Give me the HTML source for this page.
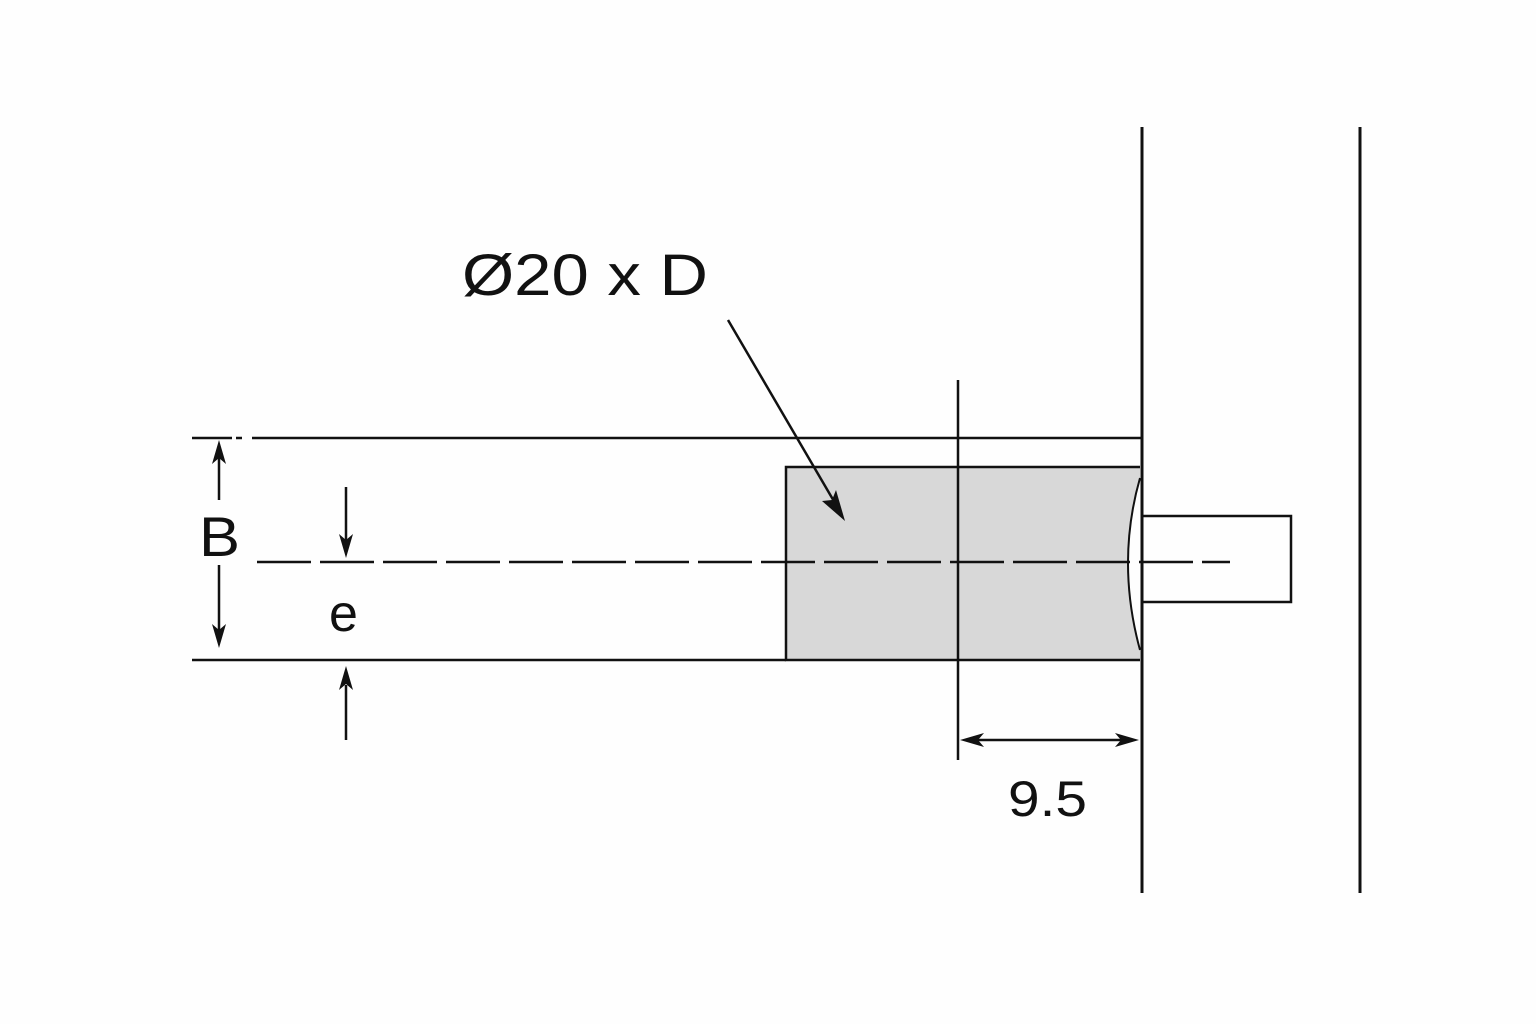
<!DOCTYPE html>
<html><head><meta charset="utf-8"><style>
html,body{margin:0;padding:0;background:#fff;}
svg{display:block;}
text{font-family:"Liberation Sans",sans-serif;fill:#111;}
</style></head><body>
<svg width="1536" height="1024" viewBox="0 0 1536 1024" xmlns="http://www.w3.org/2000/svg">
<rect width="1536" height="1024" fill="#fefefe"/>
<g stroke="#111" fill="none">
<line x1="1142" y1="127" x2="1142" y2="893" stroke-width="3"/>
<line x1="1360" y1="127" x2="1360" y2="893" stroke-width="3"/>
<path d="M786,467 L1140,467 L1140,478 Q1116,562 1140,650 L1140,660 L786,660 Z" fill="#d8d8d8" stroke="none"/>
<path d="M1140,467 L786,467 L786,660 L1140,660" stroke-width="2.5"/>
<path d="M1140,478 Q1116,562 1140,650" stroke-width="2"/>
<line x1="192" y1="438" x2="232" y2="438" stroke-width="2.5"/>
<line x1="236" y1="438" x2="242" y2="438" stroke-width="2.5"/>
<line x1="252" y1="438" x2="1142" y2="438" stroke-width="2.5"/>
<line x1="192" y1="660" x2="786" y2="660" stroke-width="2.5"/>
<rect x="1142" y="516" width="149" height="86" stroke-width="2.5"/>
<line x1="257" y1="562" x2="1230" y2="562" stroke-width="2.5" stroke-dasharray="54 9"/>
<line x1="958" y1="380" x2="958" y2="760" stroke-width="2.5"/>
<line x1="219" y1="500" x2="219" y2="455" stroke-width="2.5"/>
<line x1="219" y1="565" x2="219" y2="630" stroke-width="2.5"/>
<line x1="346" y1="487" x2="346" y2="540" stroke-width="2.5"/>
<line x1="346" y1="740" x2="346" y2="685" stroke-width="2.5"/>
<line x1="975" y1="740" x2="1122" y2="740" stroke-width="2.5"/>
<line x1="728" y1="320" x2="835" y2="503" stroke-width="2.5"/>
</g>
<g fill="#111">
<path d="M219,440 L226,464 L219,458 L212,464 Z"/>
<path d="M219,648 L226,624 L219,630 L212,624 Z"/>
<path d="M346,558 L353,534 L346,540 L339,534 Z"/>
<path d="M346,666 L353,690 L346,684 L339,690 Z"/>
<path d="M960,740 L984,733 L978,740 L984,747 Z"/>
<path d="M1139,740 L1115,733 L1121,740 L1115,747 Z"/>
<path d="M845,521 L822,501 L832,500 L836,490 Z"/>
</g>
<text x="462" y="295" font-size="58" textLength="246" lengthAdjust="spacingAndGlyphs">Ø20 x D</text>
<text x="199" y="556" font-size="56" textLength="41" lengthAdjust="spacingAndGlyphs">B</text>
<text x="329" y="631" font-size="52">e</text>
<text x="1008" y="816" font-size="50" textLength="79" lengthAdjust="spacingAndGlyphs">9.5</text>
</svg>
</body></html>
